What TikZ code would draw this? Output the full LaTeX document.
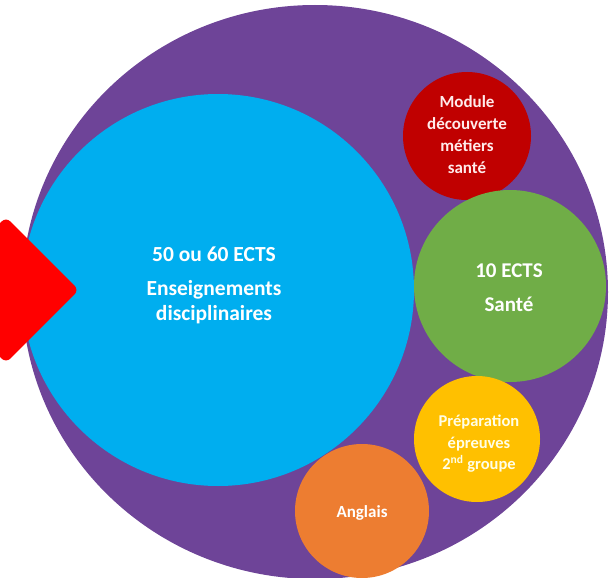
\documentclass[tikz,border=0pt]{standalone}
\usepackage{fontspec}
\setmainfont{Carlito}
\usetikzlibrary{shapes.geometric}
\definecolor{cpurple}{RGB}{110,68,152}
\definecolor{ccyan}{RGB}{0,174,239}
\definecolor{cgreen}{RGB}{112,173,71}
\definecolor{cdred}{RGB}{192,0,0}
\definecolor{cyellow}{RGB}{255,192,0}
\definecolor{corange}{RGB}{237,125,49}
\definecolor{cred}{RGB}{255,0,0}
\begin{document}
\begin{tikzpicture}[x=1pt,y=-1pt,
  bubble/.style={circle,inner sep=0pt},
  btext/.style={inner sep=0pt,text=white,align=center},
]
\useasboundingbox (0,0) rectangle (613,578);
\node[ellipse,fill=cpurple,minimum width=586pt,minimum height=574pt,inner sep=0pt] (outer) at (315,292) {};
\node[bubble,fill=ccyan,minimum size=392pt] (disc) at (218,290) {};
\node[bubble,fill=cdred,minimum size=128pt] (module) at (467,136) {};
\node[bubble,fill=cgreen,minimum size=192pt] (sante) at (510,286) {};
\node[bubble,fill=cyellow,minimum size=126pt] (prep) at (477,439) {};
\node[bubble,fill=corange,minimum size=134pt] (anglais) at (362,511) {};
\node[diamond,fill=cred,minimum size=146pt,inner sep=0pt,rounded corners=6pt] (arrow) at (6,290) {};
\node[btext,font=\bfseries\fontsize{21.5}{25}\selectfont] (disctext) at (214,285)
  {50 ou 60 ECTS\\[9pt]Enseignements\\disciplinaires};
\node[btext,text=white!92!red,font=\bfseries\fontsize{17}{22}\selectfont] (moduletext) at (467,135)
  {Module\\découverte\\métiers\\santé};
\node[btext,font=\bfseries\fontsize{21}{25}\selectfont] (santetext) at (509,288)
  {10 ECTS\\[9pt]Santé};
\node[btext,text=white!90!yellow,font=\bfseries\fontsize{16.5}{21.5}\selectfont] (preptext) at (479,444)
  {Préparation\\épreuves\\2\textsuperscript{nd} groupe};
\node[btext,font=\bfseries\fontsize{17}{20}\selectfont] (anglaistext) at (362,513)
  {Anglais};
\end{tikzpicture}
\end{document}
